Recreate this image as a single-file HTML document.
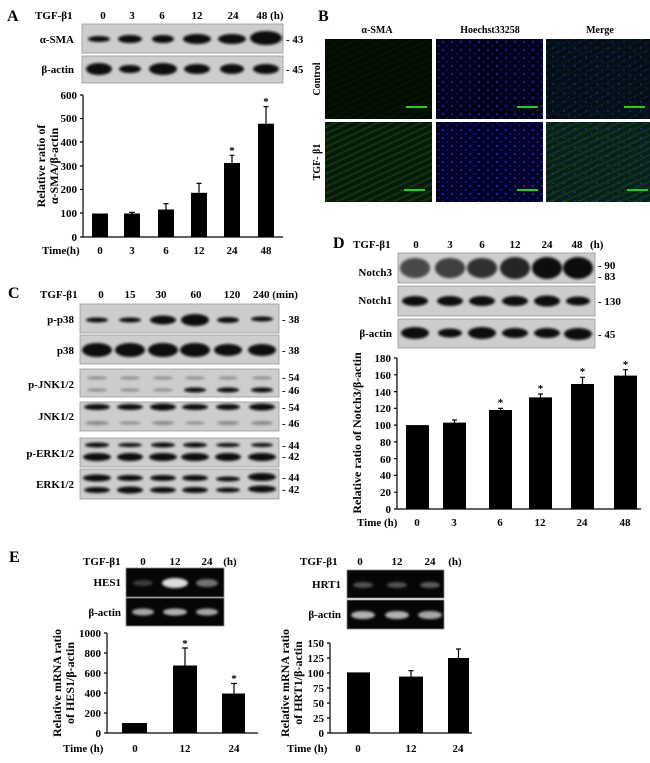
<!DOCTYPE html>
<html><head><meta charset="utf-8"><style>
html,body{margin:0;padding:0;background:#fff}
svg{display:block}
text{font-family:"Liberation Serif","DejaVu Serif",serif;font-weight:bold;font-size:11px;fill:#000}
.big{font-size:16px}
.r{text-anchor:end}.m{text-anchor:middle}
.bl{fill:#cdcdcd;stroke:#9a9a9a;stroke-width:.8}
.bd{fill:#0a0a0a;filter:url(#b)}
.gl{fill:#060606;stroke:#888;stroke-width:.8}
.gb{fill:#ddd;filter:url(#b)}
</style></head><body>
<svg width="650" height="763" viewBox="0 0 650 763" xmlns="http://www.w3.org/2000/svg">
<defs>
<filter id="b" x="-30%" y="-100%" width="160%" height="300%"><feGaussianBlur stdDeviation="1.2"/></filter>
<filter id="b2"><feGaussianBlur stdDeviation="1.5"/></filter>
<pattern id="dots" width="9" height="8" patternUnits="userSpaceOnUse"><circle cx="2" cy="2" r="1" fill="#2a2af0"/><circle cx="6.5" cy="6" r="0.9" fill="#2020c8"/></pattern>
<pattern id="dots2" width="11" height="9" patternUnits="userSpaceOnUse"><circle cx="3" cy="3" r="0.9" fill="#2a3ad0"/><circle cx="8" cy="7" r="0.8" fill="#2030b0"/></pattern>
<pattern id="streak" width="14" height="6" patternUnits="userSpaceOnUse" patternTransform="rotate(-25)"><rect width="14" height="2" fill="#1e5a1a" opacity=".6"/></pattern>
</defs>

<!-- ===== A ===== -->
<text x="7" y="21" class="big">A</text>
<text x="35" y="19">TGF-β1</text>
<text x="103" y="19" class="m">0</text><text x="132" y="19" class="m">3</text><text x="162" y="19" class="m">6</text><text x="197" y="19" class="m">12</text><text x="233" y="19" class="m">24</text><text x="270" y="19" class="m">48 (h)</text>
<rect x="82" y="24" width="201" height="29" class="bl"/>
<rect x="82" y="56" width="201" height="27" class="bl"/>
<text x="74" y="43" class="r">α-SMA</text><text x="74" y="73" class="r">β-actin</text>
<text x="286" y="43">- 43</text><text x="286" y="73">- 45</text>
<ellipse cx="99" cy="39" rx="11" ry="3" class="bd"/><ellipse cx="130" cy="39" rx="12" ry="4" class="bd"/><ellipse cx="163" cy="39" rx="11" ry="4" class="bd"/><ellipse cx="197" cy="39" rx="14" ry="5" class="bd"/><ellipse cx="232" cy="39" rx="14" ry="5" class="bd"/><ellipse cx="266" cy="38" rx="16" ry="7" class="bd"/>
<ellipse cx="99" cy="69" rx="13" ry="6" class="bd"/><ellipse cx="130" cy="69" rx="11" ry="4" class="bd"/><ellipse cx="163" cy="69" rx="14" ry="6" class="bd"/><ellipse cx="197" cy="69" rx="13" ry="5" class="bd"/><ellipse cx="232" cy="69" rx="12" ry="5" class="bd"/><ellipse cx="266" cy="69" rx="13" ry="5" class="bd"/>
<!-- chart A -->
<g stroke="#000" stroke-width="1.2" fill="none"><path d="M83 95V237H283"/><path d="M80 95H83M80 118.5H83M80 142H83M80 166H83M80 189.5H83M80 213H83M80 237H83"/></g>
<g class="r"><text x="77" y="99">600</text><text x="77" y="122">500</text><text x="77" y="146">400</text><text x="77" y="170">300</text><text x="77" y="193">200</text><text x="77" y="217">100</text><text x="77" y="241">0</text></g>
<text transform="translate(45,166) rotate(-90)" class="m" style="font-size:12px">Relative ratio of</text>
<text transform="translate(58,166) rotate(-90)" class="m" style="font-size:12px">α-SMA/β-actin</text>
<g fill="#000"><rect x="92" y="213.5" width="16" height="23.5"/><rect x="124" y="213.5" width="16" height="23.5"/><rect x="158" y="209.5" width="16" height="27.5"/><rect x="191" y="192.8" width="16" height="44.2"/><rect x="224" y="163" width="16" height="74"/><rect x="258" y="123.7" width="16" height="113.3"/></g>
<g stroke="#000" stroke-width="1.2"><path d="M132 213.5V212.3M129 212.3H135M166 209.5V203.6M163.5 203.6H168.5M199 192.8V183.4M196.5 183.4H201.5M232 163V155.3M229.5 155.3H234.5M266 123.7V106.6M263.5 106.6H268.5"/></g>
<text x="232" y="154" class="m">*</text><text x="266" y="105" class="m">*</text>
<text x="42" y="254">Time(h)</text>
<text x="100" y="254" class="m">0</text><text x="132" y="254" class="m">3</text><text x="166" y="254" class="m">6</text><text x="199" y="254" class="m">12</text><text x="232" y="254" class="m">24</text><text x="266" y="254" class="m">48</text>

<!-- ===== B ===== -->
<text x="318" y="21" class="big">B</text>
<text x="377" y="33" class="m" style="font-size:10px">α-SMA</text>
<text x="490" y="33" class="m" style="font-size:10px">Hoechst33258</text>
<text x="600" y="33" class="m" style="font-size:10px">Merge</text>
<rect x="325" y="39" width="107" height="80" fill="#030c03"/>
<rect x="436" y="39" width="107" height="80" fill="#02021a"/>
<rect x="546" y="39" width="104" height="80" fill="#040d18"/>
<rect x="325" y="122" width="107" height="80" fill="#081a07"/>
<rect x="436" y="122" width="107" height="80" fill="#03032a"/>
<rect x="546" y="122" width="104" height="80" fill="#09201a"/>
<rect x="325" y="122" width="107" height="80" fill="url(#streak)" opacity=".7"/>
<rect x="546" y="122" width="104" height="80" fill="url(#streak)" opacity=".6"/>
<rect x="325" y="39" width="107" height="80" fill="url(#streak)" opacity=".15"/>
<rect x="546" y="39" width="104" height="80" fill="url(#streak)" opacity=".2"/>
<rect x="436" y="39" width="107" height="80" fill="url(#dots)" opacity=".8"/>
<rect x="436" y="122" width="107" height="80" fill="url(#dots)" opacity=".9"/>
<rect x="546" y="39" width="104" height="80" fill="url(#dots2)" opacity=".7"/>
<rect x="546" y="122" width="104" height="80" fill="url(#dots2)" opacity=".7"/>
<g stroke="#22cc22" stroke-width="2"><path d="M406 107H427M517 107H538M624 107H645M404 190H425M517 190H538M627 190H648"/></g>
<text transform="translate(320,79) rotate(-90)" class="m" style="font-size:10px">Control</text>
<text transform="translate(320,162) rotate(-90)" class="m" style="font-size:10px">TGF- β1</text>

<!-- ===== C ===== -->
<text x="8" y="298" class="big">C</text>
<text x="40" y="298">TGF-β1</text>
<text x="101" y="298" class="m">0</text><text x="130" y="298" class="m">15</text><text x="161" y="298" class="m">30</text><text x="196" y="298" class="m">60</text><text x="232" y="298" class="m">120</text><text x="253" y="298">240 (min)</text>
<rect x="80" y="304" width="199" height="29" class="bl"/>
<rect x="80" y="335" width="199" height="29" class="bl"/>
<rect x="80" y="369" width="199" height="28" class="bl"/>
<rect x="80" y="402" width="199" height="29" class="bl"/>
<rect x="80" y="438" width="199" height="29" class="bl"/>
<rect x="80" y="469" width="199" height="30" class="bl"/>
<g class="r"><text x="74" y="323">p-p38</text><text x="74" y="354">p38</text><text x="74" y="388">p-JNK1/2</text><text x="74" y="420">JNK1/2</text><text x="74" y="457">p-ERK1/2</text><text x="74" y="488">ERK1/2</text></g>
<text x="282" y="323">- 38</text><text x="282" y="354">- 38</text><text x="282" y="381">- 54</text><text x="282" y="394">- 46</text><text x="282" y="411">- 54</text><text x="282" y="427">- 46</text><text x="282" y="449">- 44</text><text x="282" y="460">- 42</text><text x="282" y="481">- 44</text><text x="282" y="493">- 42</text>
<g class="bd">
<ellipse cx="97" cy="320" rx="11" ry="2.5"/><ellipse cx="130" cy="320" rx="11" ry="2.5"/><ellipse cx="163" cy="320" rx="13" ry="4.5"/><ellipse cx="195" cy="320" rx="14" ry="6"/><ellipse cx="228" cy="320" rx="11" ry="3"/><ellipse cx="262" cy="319" rx="11" ry="2.5"/>
<ellipse cx="97" cy="350" rx="15" ry="7"/><ellipse cx="130" cy="350" rx="15" ry="7"/><ellipse cx="163" cy="350" rx="15" ry="7"/><ellipse cx="195" cy="350" rx="15" ry="7"/><ellipse cx="228" cy="350" rx="14" ry="6"/><ellipse cx="262" cy="350" rx="14" ry="6"/>
<ellipse cx="195" cy="390" rx="11" ry="2.5"/><ellipse cx="228" cy="390" rx="11" ry="2.5"/><ellipse cx="262" cy="390" rx="11" ry="2.5"/>
<ellipse cx="97" cy="407" rx="13" ry="3"/><ellipse cx="130" cy="407" rx="13" ry="3"/><ellipse cx="163" cy="407" rx="13" ry="3.5"/><ellipse cx="195" cy="407" rx="13" ry="3"/><ellipse cx="228" cy="407" rx="12" ry="3"/><ellipse cx="262" cy="407" rx="13" ry="3.5"/>
<ellipse cx="97" cy="445" rx="12" ry="2.5"/><ellipse cx="130" cy="445" rx="12" ry="2"/><ellipse cx="163" cy="445" rx="12" ry="2.5"/><ellipse cx="195" cy="445" rx="12" ry="2.5"/><ellipse cx="228" cy="445" rx="12" ry="2"/><ellipse cx="262" cy="445" rx="11" ry="2"/>
<ellipse cx="97" cy="457" rx="14" ry="4"/><ellipse cx="130" cy="457" rx="13" ry="4"/><ellipse cx="163" cy="457" rx="14" ry="4"/><ellipse cx="195" cy="457" rx="14" ry="4"/><ellipse cx="228" cy="457" rx="13" ry="4"/><ellipse cx="262" cy="457" rx="14" ry="4"/>
<ellipse cx="97" cy="478" rx="14" ry="3.5"/><ellipse cx="130" cy="478" rx="13" ry="3"/><ellipse cx="163" cy="478" rx="13" ry="3"/><ellipse cx="195" cy="478" rx="13" ry="3"/><ellipse cx="228" cy="479" rx="12" ry="2.5"/><ellipse cx="262" cy="477" rx="14" ry="4"/>
<ellipse cx="97" cy="490" rx="13" ry="3"/><ellipse cx="130" cy="490" rx="13" ry="3.5"/><ellipse cx="163" cy="490" rx="13" ry="3"/><ellipse cx="195" cy="490" rx="13" ry="3"/><ellipse cx="228" cy="490" rx="12" ry="2.5"/><ellipse cx="262" cy="489" rx="14" ry="3.5"/>
</g>
<g class="bd" opacity=".35"><ellipse cx="97" cy="378" rx="10" ry="1.5"/><ellipse cx="130" cy="378" rx="10" ry="1.5"/><ellipse cx="163" cy="378" rx="10" ry="1.5"/><ellipse cx="195" cy="378" rx="10" ry="1.5"/><ellipse cx="228" cy="378" rx="10" ry="1.5"/><ellipse cx="262" cy="378" rx="10" ry="1.5"/>
<ellipse cx="97" cy="390" rx="10" ry="1.5"/><ellipse cx="130" cy="390" rx="10" ry="1.5"/><ellipse cx="163" cy="390" rx="10" ry="1.5"/>
<ellipse cx="97" cy="423" rx="12" ry="2"/><ellipse cx="130" cy="423" rx="11" ry="1.5"/><ellipse cx="163" cy="423" rx="11" ry="2"/><ellipse cx="195" cy="423" rx="10" ry="1.5"/><ellipse cx="228" cy="423" rx="11" ry="2"/><ellipse cx="262" cy="423" rx="11" ry="2"/></g>

<!-- ===== D ===== -->
<text x="333" y="248" class="big">D</text>
<text x="353" y="248">TGF-β1</text>
<text x="416" y="248" class="m">0</text><text x="450" y="248" class="m">3</text><text x="482" y="248" class="m">6</text><text x="515" y="248" class="m">12</text><text x="547" y="248" class="m">24</text><text x="577" y="248" class="m">48</text><text x="590" y="248">(h)</text>
<rect x="398" y="253" width="197" height="30" class="bl"/>
<rect x="398" y="286" width="197" height="30" class="bl"/>
<rect x="398" y="319" width="197" height="29" class="bl"/>
<g class="r"><text x="392" y="276">Notch3</text><text x="392" y="304">Notch1</text><text x="392" y="337">β-actin</text></g>
<text x="598" y="269">- 90</text><text x="598" y="280">- 83</text><text x="598" y="305">- 130</text><text x="598" y="338">- 45</text>
<g class="bd">
<ellipse cx="415" cy="268" rx="15" ry="10" opacity=".7"/><ellipse cx="450" cy="268" rx="15" ry="10" opacity=".75"/><ellipse cx="482" cy="268" rx="15" ry="10" opacity=".82"/><ellipse cx="515" cy="268" rx="15" ry="11" opacity=".88"/><ellipse cx="547" cy="268" rx="15" ry="11"/><ellipse cx="578" cy="268" rx="15" ry="11"/>
<ellipse cx="415" cy="301" rx="13" ry="5"/><ellipse cx="450" cy="301" rx="13" ry="5"/><ellipse cx="482" cy="301" rx="13" ry="5"/><ellipse cx="515" cy="301" rx="13" ry="5"/><ellipse cx="547" cy="301" rx="13" ry="5.5"/><ellipse cx="578" cy="301" rx="12" ry="4.5"/>
<ellipse cx="415" cy="333" rx="14" ry="6"/><ellipse cx="450" cy="333" rx="12" ry="4.5"/><ellipse cx="482" cy="333" rx="14" ry="6"/><ellipse cx="515" cy="333" rx="13" ry="5"/><ellipse cx="547" cy="333" rx="13" ry="5"/><ellipse cx="578" cy="334" rx="14" ry="6"/>
</g>
<g stroke="#000" stroke-width="1.2" fill="none"><path d="M397 358V509H641"/><path d="M394 358H397M394 374.8H397M394 391.6H397M394 408.3H397M394 425.1H397M394 441.9H397M394 458.7H397M394 475.4H397M394 492.2H397M394 509H397"/></g>
<g class="r"><text x="391" y="362">180</text><text x="391" y="379">160</text><text x="391" y="396">140</text><text x="391" y="412">120</text><text x="391" y="429">100</text><text x="391" y="446">80</text><text x="391" y="463">60</text><text x="391" y="479">40</text><text x="391" y="496">20</text><text x="391" y="513">0</text></g>
<text transform="translate(361,433) rotate(-90)" class="m" style="font-size:12px">Relative ratio of Notch3/β-actin</text>
<g fill="#000"><rect x="406" y="425.1" width="23" height="83.9"/><rect x="443" y="422.6" width="23" height="86.4"/><rect x="489" y="410" width="23" height="99"/><rect x="529" y="397.4" width="23" height="111.6"/><rect x="571" y="384" width="23" height="125"/><rect x="614" y="375.6" width="23" height="133.4"/></g>
<g stroke="#000" stroke-width="1.2"><path d="M454.5 422.6V420M452 420H457M500.5 410V408.3M498 408.3H503M540.5 397.4V394M538 394H543M582.5 384V377.3M580 377.3H585M625.5 375.6V369.7M623 369.7H628"/></g>
<g class="m" style="font-size:10px"><text x="500.5" y="406">*</text><text x="540.5" y="392">*</text><text x="582.5" y="375">*</text><text x="625.5" y="368">*</text></g>
<text x="357" y="526">Time (h)</text>
<text x="417" y="526" class="m">0</text><text x="454" y="526" class="m">3</text><text x="500" y="526" class="m">6</text><text x="540" y="526" class="m">12</text><text x="582" y="526" class="m">24</text><text x="625" y="526" class="m">48</text>

<!-- ===== E ===== -->
<text x="9" y="562" class="big">E</text>
<text x="83" y="565">TGF-β1</text>
<text x="143" y="565" class="m">0</text><text x="175" y="565" class="m">12</text><text x="207" y="565" class="m">24</text><text x="230" y="565" class="m">(h)</text>
<rect x="126" y="568" width="98" height="29" class="gl"/>
<rect x="126" y="598" width="98" height="28" class="gl"/>
<text x="121" y="586" class="r">HES1</text><text x="121" y="616" class="r">β-actin</text>
<ellipse cx="143" cy="583" rx="10" ry="3" class="gb" opacity=".25"/><ellipse cx="175" cy="583" rx="13" ry="5" class="gb"/><ellipse cx="207" cy="583" rx="11" ry="4" class="gb" opacity=".5"/>
<ellipse cx="143" cy="612" rx="11" ry="3.5" class="gb" opacity=".75"/><ellipse cx="175" cy="612" rx="12" ry="3.5" class="gb" opacity=".8"/><ellipse cx="207" cy="612" rx="11" ry="3.5" class="gb" opacity=".75"/>
<text x="300" y="565">TGF-β1</text>
<text x="360" y="565" class="m">0</text><text x="397" y="565" class="m">12</text><text x="430" y="565" class="m">24</text><text x="455" y="565" class="m">(h)</text>
<rect x="347" y="570" width="97" height="28" class="gl"/>
<rect x="347" y="600" width="97" height="29" class="gl"/>
<text x="341" y="588" class="r">HRT1</text><text x="341" y="618" class="r">β-actin</text>
<ellipse cx="363" cy="585" rx="10" ry="3" class="gb" opacity=".35"/><ellipse cx="397" cy="585" rx="10" ry="3" class="gb" opacity=".35"/><ellipse cx="430" cy="585" rx="10" ry="3" class="gb" opacity=".4"/>
<ellipse cx="363" cy="615" rx="12" ry="4" class="gb" opacity=".8"/><ellipse cx="397" cy="615" rx="12" ry="4" class="gb" opacity=".8"/><ellipse cx="430" cy="615" rx="12" ry="4" class="gb" opacity=".75"/>
<g stroke="#000" stroke-width="1.2" fill="none"><path d="M107 633V733H258"/><path d="M104 633H107M104 653H107M104 673H107M104 693H107M104 713H107M104 733H107"/></g>
<g class="r"><text x="101" y="637">1000</text><text x="101" y="657">800</text><text x="101" y="677">600</text><text x="101" y="697">400</text><text x="101" y="717">200</text><text x="101" y="737">0</text></g>
<text transform="translate(61,683) rotate(-90)" class="m" style="font-size:12px">Relative mRNA ratio</text>
<text transform="translate(74,683) rotate(-90)" class="m" style="font-size:12px">of HES1/β-actin</text>
<g fill="#000"><rect x="122" y="723" width="25" height="10"/><rect x="173" y="665.5" width="24" height="67.5"/><rect x="222" y="693.5" width="23" height="39.5"/></g>
<g stroke="#000" stroke-width="1.2"><path d="M185 665.5V648M182 648H188M234 693.5V683.5M231 683.5H237"/></g>
<text x="185" y="647" class="m">*</text><text x="234" y="682" class="m">*</text>
<text x="63" y="752">Time (h)</text>
<text x="135" y="752" class="m">0</text><text x="185" y="752" class="m">12</text><text x="234" y="752" class="m">24</text>
<g stroke="#000" stroke-width="1.2" fill="none"><path d="M330 643V733H472"/><path d="M327 643H330M327 658H330M327 673H330M327 688H330M327 703H330M327 718H330M327 733H330"/></g>
<g class="r"><text x="324" y="647">150</text><text x="324" y="662">125</text><text x="324" y="677">100</text><text x="324" y="692">75</text><text x="324" y="707">50</text><text x="324" y="722">25</text><text x="324" y="737">0</text></g>
<text transform="translate(289,683) rotate(-90)" class="m" style="font-size:12px">Relative mRNA ratio</text>
<text transform="translate(302,683) rotate(-90)" class="m" style="font-size:12px">of HRT1/β-actin</text>
<g fill="#000"><rect x="347" y="672.4" width="23" height="60.6"/><rect x="399" y="676.6" width="24" height="56.4"/><rect x="448" y="658" width="21" height="75"/></g>
<g stroke="#000" stroke-width="1.2"><path d="M411 676.6V670.6M408.5 670.6H413.5M458.5 658V649M456 649H461"/></g>
<text x="287" y="752">Time (h)</text>
<text x="358" y="752" class="m">0</text><text x="411" y="752" class="m">12</text><text x="458" y="752" class="m">24</text>
</svg>
</body></html>
